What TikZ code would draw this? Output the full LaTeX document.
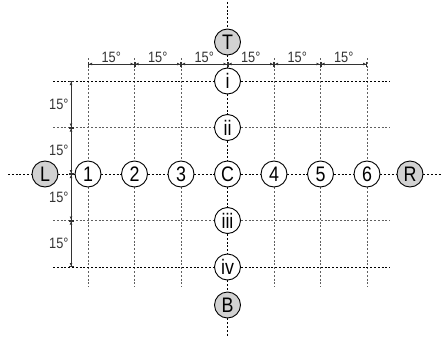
\documentclass[tikz,border=0pt]{standalone}
\usepackage{fontspec}
\setmainfont{Liberation Sans}[FakeStretch=0.85]
\usetikzlibrary{arrows.meta,backgrounds}

\begin{document}
\begin{tikzpicture}[x=1pt,y=-1pt,
  spot/.style={circle,draw,line width=0.9pt,fill=white,minimum size=26pt,inner sep=0pt,font=\fontsize{21}{21}\selectfont},
  refspot/.style={spot,fill=gray!35},
  gridline/.style={line width=0.8pt,dash pattern=on 2pt off 1.8pt},
  lightline/.style={gridline,gray!75!black},
  dim/.style={line width=1pt,black!80,{Bar[width=5pt]Latex[length=3pt,width=3pt]}-{Latex[length=3pt,width=3pt]Bar[width=5pt]}},
  lbl/.style={font=\fontsize{15}{15}\selectfont,inner sep=1pt}]
  \useasboundingbox (0,0) rectangle (441,337);
  % reference points
  \node[refspot] (T) at (227.5,42) {T};
  \node[refspot] (B) at (227.5,305) {B};
  \node[refspot] (L) at (45,174) {L};
  \node[refspot] (R) at (410,174) {R};
  % centre row
  \foreach \lab/\nm [count=\k] in {1/p1,2/p2,3/p3,C/C,4/p4,5/p5,6/p6}
    \node[spot] (\nm) at ({88+46.5*(\k-1)},174) {\lab};
  % centre column
  \node[spot] (r1) at (227.5,81) {i};
  \node[spot] (r2) at (227.5,127.5) {ii};
  \node[spot] (r3) at (227.5,220.5) {iii};
  \node[spot] (r4) at (227.5,267) {iv};
  % ends of the lines
  \coordinate (top) at (0,58);
  \coordinate (bot) at (0,287);
  \coordinate (lft) at (53,0);
  \coordinate (rgt) at (390,0);
  \coordinate (dtop) at (0,64);
  \coordinate (dlft) at (71,0);
  \begin{scope}[on background layer]
    \draw[gridline] (8,174) -- (L) -- (p1) -- (p2) -- (p3) -- (C) -- (p4) -- (p5) -- (p6) -- (R) -- (441,174);
    \draw[gridline] (227.5,2) -- (T) -- (r1) -- (r2) -- (C) -- (r3) -- (r4) -- (B) -- (227.5,337);
    \foreach \nm in {p1,p2,p3,p4,p5,p6}
      \draw[lightline] (\nm |- top) -- (\nm) -- (\nm |- bot);
    \draw[gridline] (lft |- r1) -- (r1) -- (rgt |- r1);
    \draw[lightline] (lft |- r2) -- (r2) -- (rgt |- r2);
    \draw[lightline] (lft |- r3) -- (r3) -- (rgt |- r3);
    \draw[gridline] (lft |- r4) -- (r4) -- (rgt |- r4);
  \end{scope}
  % angle marks
  \foreach \a/\b in {p1/p2,p2/p3,p3/C,C/p4,p4/p5,p5/p6}
    \draw[dim] (\a |- dtop) -- (\b |- dtop) node[lbl,midway,above] {15°};
  \foreach \a/\b in {r1/r2,r2/C,C/r3,r3/r4}
    \draw[dim] (dlft |- \a) -- (dlft |- \b) node[lbl,midway,left,xshift=-1pt] {15°};
\end{tikzpicture}
\end{document}
